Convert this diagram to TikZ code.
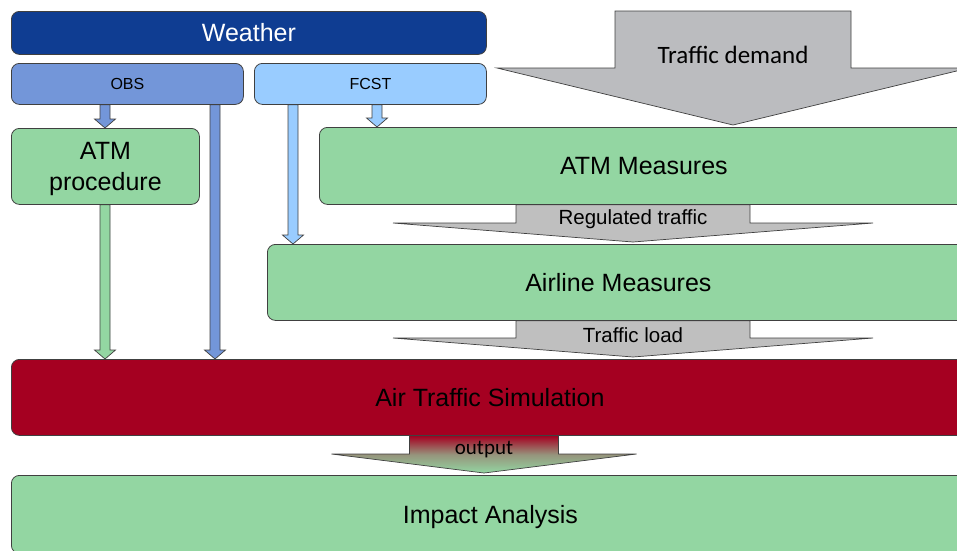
\documentclass[tikz,border=0pt]{standalone}
\usepackage{fontspec}
\setmainfont{Liberation Sans}
\newfontfamily\calfont{Carlito}
\usetikzlibrary{calc,backgrounds}

\definecolor{wxblue}{HTML}{0F3D92}
\definecolor{obsblue}{HTML}{7396D9}
\definecolor{fcstblue}{HTML}{99CCFF}
\definecolor{boxgreen}{HTML}{93D6A2}
\definecolor{simred}{HTML}{A50021}
\definecolor{flowgray}{HTML}{BFBFBF}
\definecolor{demandgray}{HTML}{BBBCBF}
\definecolor{edgegray}{HTML}{404040}

\newcommand\fsz[2]{\fontsize{#1}{#2}\selectfont}

% narrow block arrow from the bottom of one box to the top of another
% #1 x position, #2 start anchor, #3 end anchor, #4 fill colour
\newcommand\feedarrow[4]{%
  \path[draw=edgegray, line width=0.7pt, fill=#4, line join=miter]
    let \p1=(#2), \p2=(#3) in
    ({#1pt-5pt},\y1) -- ({#1pt-5pt},{\y2+9pt}) -- ({#1pt-10.5pt},{\y2+9pt})
    -- ({#1pt},\y2) -- ({#1pt+10.5pt},{\y2+9pt}) -- ({#1pt+5pt},{\y2+9pt})
    -- ({#1pt+5pt},\y1) -- cycle;}

% wide flow arrow: #1 centre x, #2 half shaft width, #3 half wing width,
% #4 start anchor, #5 target anchor, #6 head height, #7 path style
\newcommand\flowarrow[7]{%
  \path[#7] let \p1=(#4), \p2=(#5) in
    ({#1pt-#2pt},\y1) -- ({#1pt-#2pt},{\y2+2pt+#6pt}) -- ({#1pt-#3pt},{\y2+2pt+#6pt})
    -- ({#1pt},{\y2+2pt}) -- ({#1pt+#3pt},{\y2+2pt+#6pt}) -- ({#1pt+#2pt},{\y2+2pt+#6pt})
    -- ({#1pt+#2pt},\y1) -- cycle;}

\begin{document}
\begin{tikzpicture}[x=1pt, y=-1pt,
  box/.style={draw=edgegray, line width=0.8pt, rounded corners=8pt,
    anchor=north west, inner sep=0pt, align=center},
  bigtext/.style={font=\fsz{25}{30}},
  flowfill/.style={draw=edgegray, line width=0.7pt, fill=flowgray, line join=miter},
  flowlabel/.style={font=\fsz{20.5}{24}, inner sep=0pt}]

\useasboundingbox (0,0) rectangle (957,550);
\clip (0,0) rectangle (957,550);

% weather sources
\node[box, fill=wxblue, text=white, minimum width=475, minimum height=43,
  bigtext] (weather) at (11,11) {Weather};
\node[box, fill=obsblue, minimum width=232, minimum height=41,
  font=\fsz{16}{19}] (obs) at (11,63) {OBS};
\node[box, fill=fcstblue, minimum width=232, minimum height=41,
  font=\fsz{16}{19}] (fcst) at (254,63) {FCST};

% measures and simulation chain
\node[box, fill=boxgreen, minimum width=188, minimum height=76,
  bigtext, text depth=0pt] (atmproc) at (11,128) {ATM\\[1pt]procedure};
\node[box, fill=boxgreen, minimum width=649, minimum height=77,
  bigtext] (atmm) at (319,127) {ATM Measures};
\node[box, fill=boxgreen, minimum width=702, minimum height=76,
  bigtext] (airline) at (267,244) {Airline Measures};
\node[box, fill=simred, minimum width=957, minimum height=76,
  bigtext] (sim) at (11,359) {Air Traffic Simulation};
\node[box, fill=boxgreen, minimum width=958, minimum height=78,
  bigtext, text depth=0pt] (impact) at (11,475) {Impact Analysis};

\coordinate (demandtop) at (733,11);

\begin{pgfonlayer}{background}
  % weather inputs
  \feedarrow{105}{obs.south}{atmproc.north}{obsblue}
  \feedarrow{215}{obs.south}{sim.north}{obsblue}
  \feedarrow{293}{fcst.south}{airline.north}{fcstblue}
  \feedarrow{377}{fcst.south}{atmm.north}{fcstblue}
  \feedarrow{105}{atmproc.south}{sim.north}{boxgreen}

  % traffic flows
  \flowarrow{733}{118}{236}{demandtop}{atmm.north}{57}
    {draw=edgegray, line width=0.7pt, fill=demandgray, line join=miter}
  \flowarrow{633}{117}{240}{atmm.south}{airline.north}{19}{flowfill}
  \flowarrow{633}{117}{240}{airline.south}{sim.north}{19}{flowfill}
  \flowarrow{484}{74.5}{152.5}{sim.south}{impact.north}{19}
    {draw=edgegray, line width=0.7pt, top color=simred, bottom color=boxgreen,
     middle color=simred!30!boxgreen!90!gray, line join=miter}
\end{pgfonlayer}

% flow labels
\node[font=\calfont\fsz{25}{30}, inner sep=0pt] (demandlbl) at (733,55) {Traffic demand};
\node[flowlabel] (reglbl) at (633,219) {Regulated traffic};
\node[flowlabel] (loadlbl) at (633,335) {Traffic load};
\node[font=\calfont\fsz{21}{25}, inner sep=0pt] (outlbl) at (484,450) {output};

\end{tikzpicture}
\end{document}
